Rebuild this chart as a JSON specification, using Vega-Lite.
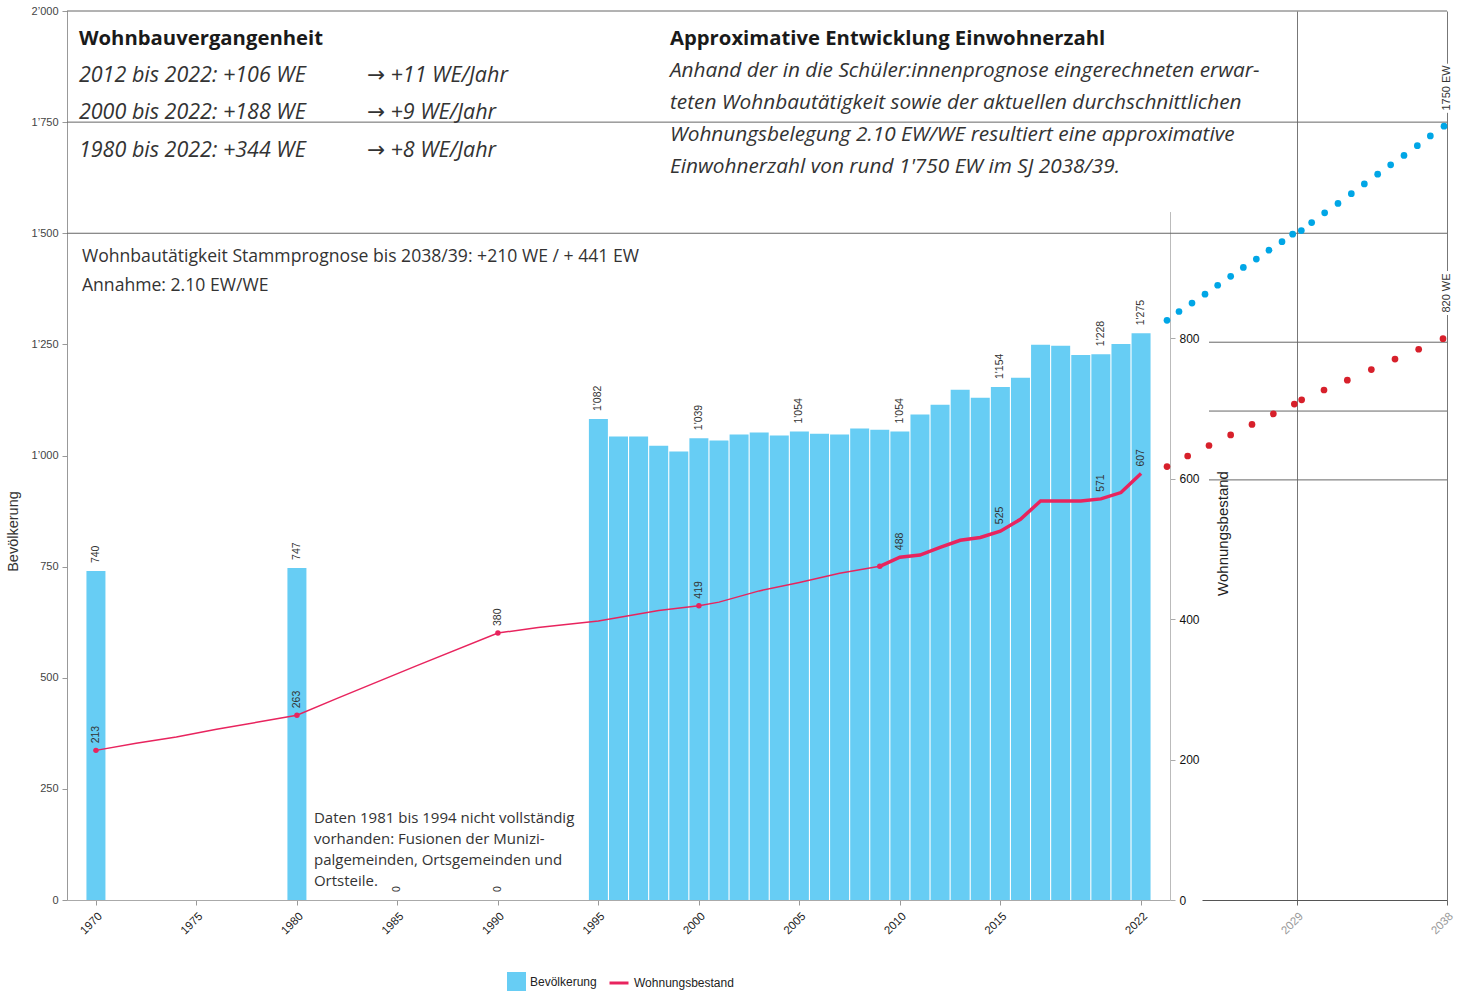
{
  "$schema": "https://vega.github.io/schema/vega-lite/v6.json",
  "width": 1380,
  "height": 889,
  "autosize": {"type": "none"},
  "padding": {"left": 67, "top": 11, "right": 28, "bottom": 94},
  "background": "white",
  "config": {
    "view": {"stroke": null},
    "locale": {"number": {"decimal": ".", "thousands": "’", "grouping": [3], "currency": ["", ""]}},
    "font": "Liberation Sans",
    "axis": {"labelFont": "Liberation Sans", "titleFont": "Liberation Sans", "grid": false},
    "legend": {"labelFont": "Liberation Sans"}
  },
  "datasets": {
    "bev": [
      {"yr": 1970, "pop": 740, "lab": "740"},
      {"yr": 1980, "pop": 747, "lab": "747"},
      {"yr": 1985, "pop": 0, "lab": "0"},
      {"yr": 1990, "pop": 0, "lab": "0"},
      {"yr": 1995, "pop": 1082, "lab": "1'082"},
      {"yr": 1996, "pop": 1043},
      {"yr": 1997, "pop": 1043},
      {"yr": 1998, "pop": 1022},
      {"yr": 1999, "pop": 1009},
      {"yr": 2000, "pop": 1039, "lab": "1'039"},
      {"yr": 2001, "pop": 1034},
      {"yr": 2002, "pop": 1047},
      {"yr": 2003, "pop": 1052},
      {"yr": 2004, "pop": 1045},
      {"yr": 2005, "pop": 1054, "lab": "1'054"},
      {"yr": 2006, "pop": 1049},
      {"yr": 2007, "pop": 1047},
      {"yr": 2008, "pop": 1061},
      {"yr": 2009, "pop": 1058},
      {"yr": 2010, "pop": 1054, "lab": "1'054"},
      {"yr": 2011, "pop": 1092},
      {"yr": 2012, "pop": 1114},
      {"yr": 2013, "pop": 1148},
      {"yr": 2014, "pop": 1130},
      {"yr": 2015, "pop": 1154, "lab": "1'154"},
      {"yr": 2016, "pop": 1175},
      {"yr": 2017, "pop": 1249},
      {"yr": 2018, "pop": 1247},
      {"yr": 2019, "pop": 1226},
      {"yr": 2020, "pop": 1228, "lab": "1'228"},
      {"yr": 2021, "pop": 1251},
      {"yr": 2022, "pop": 1275, "lab": "1'275"}
    ],
    "popGrid": [{"pop": 1500}, {"pop": 1750}, {"pop": 2000}],
    "weThin": [
      {"yr": 1970, "we": 213}, {"yr": 1972, "we": 223}, {"yr": 1974, "we": 232},
      {"yr": 1976, "we": 243}, {"yr": 1978, "we": 253}, {"yr": 1980, "we": 263},
      {"yr": 1982, "we": 287}, {"yr": 1986, "we": 334}, {"yr": 1990, "we": 380},
      {"yr": 1992, "we": 388}, {"yr": 1995, "we": 397}, {"yr": 1998, "we": 412},
      {"yr": 2000, "we": 419}, {"yr": 2001, "we": 424}, {"yr": 2003, "we": 440},
      {"yr": 2005, "we": 452}, {"yr": 2007, "we": 465}, {"yr": 2009, "we": 475}
    ],
    "weThick": [
      {"yr": 2009, "we": 475}, {"yr": 2010, "we": 488}, {"yr": 2011, "we": 491},
      {"yr": 2012, "we": 502}, {"yr": 2013, "we": 512}, {"yr": 2014, "we": 516},
      {"yr": 2015, "we": 525}, {"yr": 2016, "we": 542}, {"yr": 2017, "we": 568},
      {"yr": 2018, "we": 568}, {"yr": 2019, "we": 568}, {"yr": 2020, "we": 571},
      {"yr": 2021, "we": 580}, {"yr": 2022, "we": 607}
    ],
    "weDots": [
      {"yr": 1970, "we": 213}, {"yr": 1980, "we": 263}, {"yr": 1990, "we": 380},
      {"yr": 2000, "we": 419}, {"yr": 2009, "we": 475}
    ],
    "weLabs": [
      {"yr": 1970, "we": 213, "lab": "213"}, {"yr": 1980, "we": 263, "lab": "263"},
      {"yr": 1990, "we": 380, "lab": "380"}, {"yr": 2000, "we": 419, "lab": "419"},
      {"yr": 2010, "we": 488, "lab": "488"}, {"yr": 2015, "we": 525, "lab": "525"},
      {"yr": 2020, "we": 571, "lab": "571"}, {"yr": 2022, "we": 607, "lab": "607"}
    ],
    "projPop": [
      {"t": 2021.2, "pop": 1304}, {"t": 2021.92, "pop": 1324}, {"t": 2022.7, "pop": 1343},
      {"t": 2023.48, "pop": 1363}, {"t": 2024.24, "pop": 1383}, {"t": 2025.02, "pop": 1403},
      {"t": 2025.78, "pop": 1423}, {"t": 2026.56, "pop": 1442}, {"t": 2027.32, "pop": 1462},
      {"t": 2028.1, "pop": 1481}, {"t": 2028.74, "pop": 1498}, {"t": 2029.26, "pop": 1506},
      {"t": 2029.88, "pop": 1524}, {"t": 2030.66, "pop": 1546}, {"t": 2031.46, "pop": 1567},
      {"t": 2032.26, "pop": 1589}, {"t": 2033.04, "pop": 1611}, {"t": 2033.84, "pop": 1633},
      {"t": 2034.62, "pop": 1654}, {"t": 2035.42, "pop": 1675}, {"t": 2036.22, "pop": 1697},
      {"t": 2037.0, "pop": 1719}, {"t": 2037.82, "pop": 1741}
    ],
    "projWe": [
      {"t": 2021.2, "we": 617}, {"t": 2022.44, "we": 632}, {"t": 2023.72, "we": 647},
      {"t": 2025.02, "we": 662}, {"t": 2026.3, "we": 677}, {"t": 2027.58, "we": 692},
      {"t": 2028.84, "we": 706}, {"t": 2029.28, "we": 712}, {"t": 2030.62, "we": 726},
      {"t": 2032.02, "we": 740}, {"t": 2033.46, "we": 755}, {"t": 2034.88, "we": 770},
      {"t": 2036.3, "we": 784}, {"t": 2037.76, "we": 799}
    ],
    "projGrid": [
      {"t": 2023.72, "t2": 2038, "we": 598},
      {"t": 2023.72, "t2": 2038, "we": 696},
      {"t": 2023.72, "t2": 2038, "we": 794}
    ],
    "projPopLab": [{"t": 2038, "pop": 1827, "txt": "1750 EW"}],
    "projWeLab": [{"t": 2038, "we": 864, "txt": "820 WE"}],
    "titles": [
      {"yr": 1969.154, "pop": 1937, "txt": "Wohnbauvergangenheit"},
      {"yr": 1998.56, "pop": 1937, "txt": "Approximative Entwicklung Einwohnerzahl"}
    ],
    "hist": [
      {"yr": 1969.154, "pop": 1853.8, "txt": "2012 bis 2022: +106 WE\n2000 bis 2022: +188 WE\n1980 bis 2022: +344 WE"},
      {"yr": 1983.484, "pop": 1853.8, "txt": "→ +11 WE/Jahr\n→ +9 WE/Jahr\n→ +8 WE/Jahr"}
    ],
    "para": [
      {"yr": 1998.56, "pop": 1865, "txt": "Anhand der in die Schüler:innenprognose eingerechneten erwar-\nteten Wohnbautätigkeit sowie der aktuellen durchschnittlichen\nWohnungsbelegung 2.10 EW/WE resultiert eine approximative\nEinwohnerzahl von rund 1'750 EW im SJ 2038/39."}
    ],
    "stamm": [
      {"yr": 1969.303, "pop": 1446.6, "txt": "Wohnbautätigkeit Stammprognose bis 2038/39: +210 WE / + 441 EW\nAnnahme: 2.10 EW/WE"}
    ],
    "daten": [
      {"yr": 1980.847, "pop": 184.5, "txt": "Daten 1981 bis 1994 nicht vollständig\nvorhanden: Fusionen der Munizi-\npalgemeinden, Ortsgemeinden und\nOrtsteile."}
    ]
  },
  "layer": [
    {
      "layer": [
        {
          "layer": [
            {
              "data": {"name": "popGrid"},
              "mark": {"type": "rule", "color": "#666", "strokeWidth": 1},
              "encoding": {
                "y": {"field": "pop", "type": "quantitative", "scale": {"domain": [0, 2000], "nice": false, "zero": true}}
              }
            },
            {
              "data": {"name": "bev"},
              "mark": {"type": "bar", "width": 19},
              "encoding": {
                "x": {
                  "field": "yr", "type": "quantitative",
                  "scale": {"domain": [1968.56, 2023.44], "range": [0, 1103], "nice": false, "zero": false, "padding": 0},
                  "axis": {
                    "orient": "bottom", "title": null, "format": "d",
                    "values": [1970, 1975, 1980, 1985, 1990, 1995, 2000, 2005, 2010, 2015, 2022],
                    "labelAngle": -45, "labelFontSize": 11.5, "labelColor": "#222", "labelOverlap": false,
                    "tickSize": 5, "tickColor": "#999", "domainColor": "#aaa", "labelPadding": 5
                  }
                },
                "y": {
                  "field": "pop", "type": "quantitative",
                  "scale": {"domain": [0, 2000], "nice": false, "zero": true},
                  "axis": {
                    "orient": "left", "title": "Bevölkerung", "format": ",d",
                    "values": [0, 250, 500, 750, 1000, 1250, 1500, 1750, 2000],
                    "titleFontSize": 14.5, "titleFontWeight": "normal", "titleColor": "#333",
                    "titleAngle": 270, "titleX": -50, "titleY": 520, "titleAlign": "center", "titleBaseline": "alphabetic",
                    "labelFontSize": 11, "labelColor": "#444", "tickSize": 5, "tickColor": "#999",
                    "domainColor": "#999", "labelPadding": 4
                  }
                },
                "fill": {
                  "datum": "Bevölkerung",
                  "scale": {"domain": ["Bevölkerung"], "range": ["#67cdf4"]},
                  "legend": {
                    "orient": "none", "legendX": 440, "legendY": 961, "title": null,
                    "symbolType": "square", "symbolSize": 361, "symbolStrokeWidth": 0,
                    "labelFontSize": 12, "labelColor": "#222", "labelOffset": 4, "padding": 0
                  }
                }
              }
            },
            {
              "data": {"name": "bev"},
              "transform": [{"filter": "datum.lab != null"}],
              "mark": {"type": "text", "angle": -90, "align": "left", "baseline": "middle", "dx": 8, "fontSize": 10.5, "color": "#333", "font": "Liberation Sans"},
              "encoding": {
                "x": {"field": "yr", "type": "quantitative"},
                "y": {"field": "pop", "type": "quantitative"},
                "text": {"field": "lab"}
              }
            },
            {
              "data": {"name": "titles"},
              "mark": {"type": "text", "align": "left", "baseline": "middle", "fontSize": 20.3, "fontWeight": "bold", "font": "Open Sans", "color": "#1a1a1a"},
              "encoding": {
                "x": {"field": "yr", "type": "quantitative"},
                "y": {"field": "pop", "type": "quantitative"},
                "text": {"field": "txt"}
              }
            },
            {
              "data": {"name": "hist"},
              "mark": {"type": "text", "align": "left", "baseline": "middle", "fontSize": 21.5, "fontStyle": "italic", "font": "Open Sans, DejaVu Sans", "color": "#333", "lineBreak": "\n", "lineHeight": 37.5},
              "encoding": {
                "x": {"field": "yr", "type": "quantitative"},
                "y": {"field": "pop", "type": "quantitative"},
                "text": {"field": "txt"}
              }
            },
            {
              "data": {"name": "para"},
              "mark": {"type": "text", "align": "left", "baseline": "middle", "fontSize": 20.8, "fontStyle": "italic", "font": "Open Sans", "color": "#333", "lineBreak": "\n", "lineHeight": 32},
              "encoding": {
                "x": {"field": "yr", "type": "quantitative"},
                "y": {"field": "pop", "type": "quantitative"},
                "text": {"field": "txt"}
              }
            },
            {
              "data": {"name": "stamm"},
              "mark": {"type": "text", "align": "left", "baseline": "middle", "fontSize": 17.6, "font": "Open Sans", "color": "#333", "lineBreak": "\n", "lineHeight": 29},
              "encoding": {
                "x": {"field": "yr", "type": "quantitative"},
                "y": {"field": "pop", "type": "quantitative"},
                "text": {"field": "txt"}
              }
            },
            {
              "data": {"name": "daten"},
              "mark": {"type": "text", "align": "left", "baseline": "middle", "fontSize": 15, "font": "Open Sans", "color": "#333", "lineBreak": "\n", "lineHeight": 21},
              "encoding": {
                "x": {"field": "yr", "type": "quantitative"},
                "y": {"field": "pop", "type": "quantitative"},
                "text": {"field": "txt"}
              }
            }
          ]
        },
        {
          "layer": [
            {
              "data": {"name": "weThin"},
              "mark": {"type": "line", "strokeWidth": 1.5},
              "encoding": {
                "x": {"field": "yr", "type": "quantitative"},
                "y": {
                  "field": "we", "type": "quantitative",
                  "scale": {"domain": [0, 980], "range": [889, 200.55], "nice": false, "zero": true},
                  "axis": {
                    "orient": "right", "offset": -277, "title": "Wohnungsbestand", "format": "d",
                    "values": [0, 200, 400, 600, 800],
                    "titleFontSize": 15, "titleFontWeight": "normal", "titleColor": "#222",
                    "titleAngle": 270, "titleX": 57, "titleY": 522, "titleAlign": "center", "titleBaseline": "alphabetic",
                    "labelFontSize": 12, "labelColor": "#111", "tickSize": 5, "tickColor": "#aaa",
                    "domainColor": "#bbb", "labelPadding": 4
                  }
                },
                "stroke": {
                  "datum": "Wohnungsbestand",
                  "scale": {"domain": ["Wohnungsbestand"], "range": ["#e8245e"]},
                  "legend": {
                    "orient": "none", "legendX": 541, "legendY": 961, "title": null,
                    "symbolType": "stroke", "symbolSize": 361, "symbolStrokeWidth": 3,
                    "labelFontSize": 12, "labelColor": "#222", "labelOffset": 4, "padding": 0
                  }
                }
              }
            },
            {
              "data": {"name": "weThick"},
              "mark": {"type": "line", "strokeWidth": 3.5},
              "encoding": {
                "x": {"field": "yr", "type": "quantitative"},
                "y": {"field": "we", "type": "quantitative"},
                "stroke": {"datum": "Wohnungsbestand"}
              }
            },
            {
              "data": {"name": "weDots"},
              "mark": {"type": "point", "filled": true, "size": 30, "opacity": 1, "color": "#e8245e"},
              "encoding": {
                "x": {"field": "yr", "type": "quantitative"},
                "y": {"field": "we", "type": "quantitative"}
              }
            },
            {
              "data": {"name": "weLabs"},
              "mark": {"type": "text", "angle": -90, "align": "left", "baseline": "middle", "dx": 7, "fontSize": 10.5, "color": "#333", "font": "Liberation Sans"},
              "encoding": {
                "x": {"field": "yr", "type": "quantitative"},
                "y": {"field": "we", "type": "quantitative"},
                "text": {"field": "lab"}
              }
            }
          ]
        }
      ],
      "resolve": {"scale": {"y": "independent"}}
    },
    {
      "layer": [
        {
          "layer": [
            {
              "data": {"name": "projPop"},
              "mark": {"type": "point", "filled": true, "size": 45, "opacity": 1, "color": "#00a6e6"},
              "encoding": {
                "x": {
                  "field": "t", "type": "quantitative",
                  "scale": {"domain": [2023.3, 2038], "range": [1135, 1380], "nice": false, "zero": false, "padding": 0},
                  "axis": {
                    "orient": "bottom", "title": null, "format": "d", "values": [2029, 2038],
                    "grid": true, "gridColor": "#777", "gridWidth": 1, "gridOpacity": 1,
                    "labelAngle": -45, "labelColor": "#999", "labelFontSize": 11.5, "labelOverlap": false,
                    "tickColor": "#666", "tickSize": 5, "domainColor": "#555", "labelPadding": 5
                  }
                },
                "y": {"field": "pop", "type": "quantitative", "scale": {"domain": [0, 2000], "nice": false, "zero": true}, "axis": null}
              }
            },
            {
              "data": {"name": "projPopLab"},
              "mark": {"type": "text", "angle": -90, "align": "center", "baseline": "middle", "fontSize": 11, "font": "Liberation Sans", "color": "white", "stroke": "white", "strokeWidth": 6},
              "encoding": {
                "x": {"field": "t", "type": "quantitative"},
                "y": {"field": "pop", "type": "quantitative"},
                "text": {"field": "txt"}
              }
            },
            {
              "data": {"name": "projPopLab"},
              "mark": {"type": "text", "angle": -90, "align": "center", "baseline": "middle", "fontSize": 11, "font": "Liberation Sans", "color": "#333"},
              "encoding": {
                "x": {"field": "t", "type": "quantitative"},
                "y": {"field": "pop", "type": "quantitative"},
                "text": {"field": "txt"}
              }
            }
          ]
        },
        {
          "layer": [
            {
              "data": {"name": "projGrid"},
              "mark": {"type": "rule", "color": "#666", "strokeWidth": 1},
              "encoding": {
                "x": {"field": "t", "type": "quantitative"},
                "x2": {"field": "t2"},
                "y": {"field": "we", "type": "quantitative", "scale": {"domain": [0, 980], "range": [889, 200.55], "nice": false, "zero": true}, "axis": null}
              }
            },
            {
              "data": {"name": "projWe"},
              "mark": {"type": "point", "filled": true, "size": 45, "opacity": 1, "color": "#d7202b"},
              "encoding": {
                "x": {"field": "t", "type": "quantitative"},
                "y": {"field": "we", "type": "quantitative"}
              }
            },
            {
              "data": {"name": "projWeLab"},
              "mark": {"type": "text", "angle": -90, "align": "center", "baseline": "middle", "fontSize": 11, "font": "Liberation Sans", "color": "white", "stroke": "white", "strokeWidth": 6},
              "encoding": {
                "x": {"field": "t", "type": "quantitative"},
                "y": {"field": "we", "type": "quantitative"},
                "text": {"field": "txt"}
              }
            },
            {
              "data": {"name": "projWeLab"},
              "mark": {"type": "text", "angle": -90, "align": "center", "baseline": "middle", "fontSize": 11, "font": "Liberation Sans", "color": "#333"},
              "encoding": {
                "x": {"field": "t", "type": "quantitative"},
                "y": {"field": "we", "type": "quantitative"},
                "text": {"field": "txt"}
              }
            }
          ]
        }
      ],
      "resolve": {"scale": {"y": "independent"}}
    }
  ],
  "resolve": {"scale": {"x": "independent", "y": "independent"}}
}
